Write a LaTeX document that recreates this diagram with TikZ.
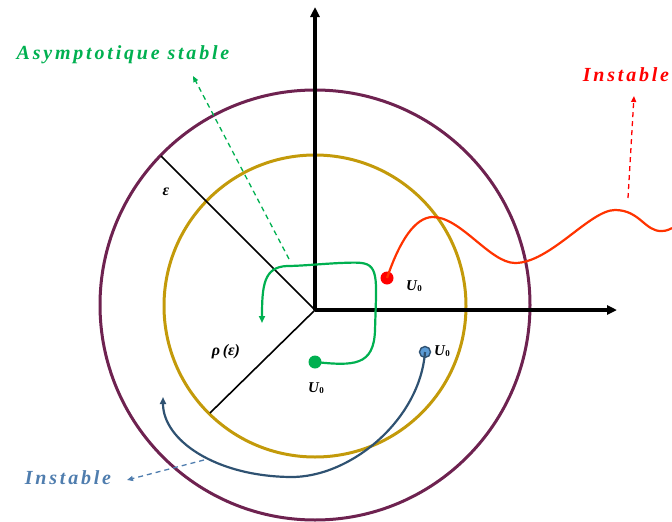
\documentclass[tikz,border=0pt]{standalone}
\usepackage{fontspec}
\setmainfont{Liberation Serif}
\newfontfamily\labfont[LetterSpace=14]{Liberation Serif}
\usetikzlibrary{arrows.meta}
\definecolor{outerc}{HTML}{6E2250}
\definecolor{innerc}{HTML}{C39A0A}
\definecolor{greenc}{HTML}{00B050}
\definecolor{redc}{HTML}{FF3300}
\definecolor{reddot}{HTML}{FF0000}
\definecolor{bluec}{HTML}{2F5272}
\definecolor{bluedot}{HTML}{5B9BD5}
\definecolor{bluelab}{HTML}{4F7DAE}
\tikzset{
  axis/.style={line width=3.2pt,-{Triangle[length=10pt,width=9pt]}},
  radius/.style={line width=1.6pt},
  traj/.style={line width=2.2pt},
  tip/.style={-{Triangle[length=7pt,width=6pt]}},
  dashar/.style={line width=1.3pt,dashed,dash pattern=on 5pt off 4pt,-{Triangle[length=6pt,width=5pt]}},
  biglab/.style={font=\labfont\fontsize{20}{24}\selectfont\bfseries\itshape},
  ulab/.style={font=\fontsize{15}{17}\selectfont\bfseries\itshape},
  glab/.style={font=\fontsize{16}{18}\selectfont\bfseries\itshape},
  dot/.style={circle,inner sep=0pt,minimum size=#1},
}
\newcommand{\Uz}{U\kern0.5pt\raisebox{-0.25ex}{\fontsize{9}{10}\selectfont\upshape 0}}
\begin{document}
\begin{tikzpicture}[x=1pt,y=-1pt]
\path[use as bounding box] (0,0) rectangle (672,522);
% circles
\node[circle,draw=outerc,line width=3pt,minimum size=430pt,inner sep=0pt] (outer) at (315,305) {};
\node[circle,draw=innerc,line width=3pt,minimum size=302pt,inner sep=0pt] (inner) at (315,306) {};
% axes
\coordinate (O) at (315,310);
\coordinate (ytip) at (315,7);
\coordinate (xtip) at (617,310);
\draw[axis] (O) -- (ytip);
\draw[axis] (O) -- (xtip);
% radii
\coordinate (epsend) at (161,156);
\coordinate (rhoend) at (210,413);
\draw[radius] (O) -- (epsend);
\draw[radius] (O) -- (rhoend);
\node[glab] (eps) at (166,192) {ε};
\node[glab] (rho) at (226,352) {ρ\,(ε)};
% green trajectory
\node[dot=13pt,fill=greenc] (gdot) at (315,362) {};
\draw[traj,greenc,tip] (gdot.center) .. controls (354,366) and (374,366) .. (375,330)
  -- (376,298) .. controls (377,260) and (370,262) .. (340,263)
  .. controls (320,264) and (300,266) .. (287,266)
  .. controls (264,267) and (262,285) .. (262,323);
\node[ulab] (gU) at (316,388) {\Uz};
% green dashed
\coordinate (gds) at (289,259);
\coordinate (gde) at (193,76);
\draw[dashar,greenc] (gds) -- (gde);
\node[biglab,text=greenc] (asl) at (123,55) {Asymptotique stable};
% red trajectory
\node[dot=13pt,fill=reddot] (rdot) at (387,278) {};
\draw[traj,redc] (rdot.center) .. controls (400,240) and (415,218) .. (432,217)
  .. controls (460,216) and (490,263) .. (515,263)
  .. controls (550,263) and (590,210) .. (615,210)
  .. controls (640,210) and (645,232) .. (662,231)
  .. controls (667,231) and (670,229) .. (672,228);
\node[ulab] (rU) at (414,286) {\Uz};
\coordinate (rds) at (628,198);
\coordinate (rde) at (634,96);
\draw[dashar,reddot] (rds) -- (rde);
\node[biglab,text=reddot] (rl) at (626,75) {Instable};
% blue trajectory
\node[dot=11pt,fill=bluedot,draw=bluec,line width=1.4pt] (bdot) at (425,352) {};
\draw[traj,bluec,tip] (bdot.center) .. controls (420,420) and (350,478) .. (290,477)
  .. controls (215,476) and (163,440) .. (163,397);
\node[ulab] (bU) at (442,351) {\Uz};
\coordinate (bds) at (204,460);
\coordinate (bde) at (127,480);
\draw[dashar,bluelab] (bds) -- (bde);
\node[biglab,text=bluelab] (bl) at (68,478) {Instable};
\end{tikzpicture}
\end{document}
